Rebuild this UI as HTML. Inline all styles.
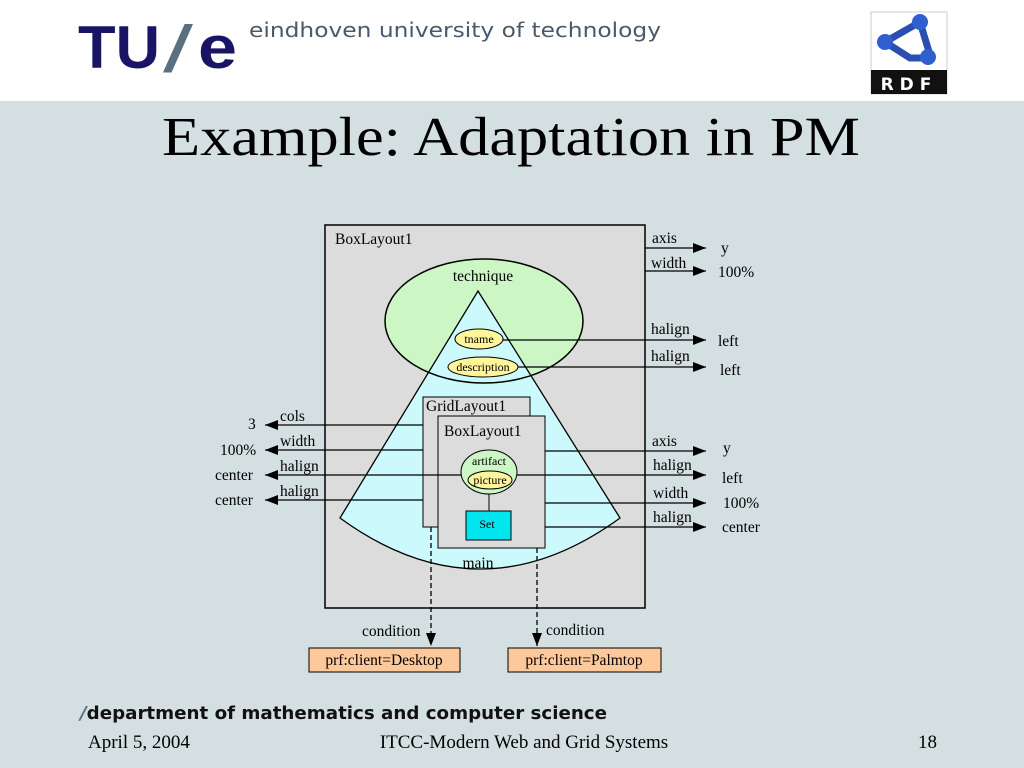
<!DOCTYPE html>
<html><head><meta charset="utf-8"><style>
body{margin:0;width:1024px;height:768px;overflow:hidden;background:#d4dfe2}
svg{display:block}
.s{font-family:"Liberation Serif",serif;font-size:15.5px;fill:#000}
.m{font-family:"Liberation Serif",serif;font-size:12px;fill:#000}
</style></head><body>
<svg width="1024" height="768" viewBox="0 0 1024 768">
<defs><marker id="a" markerWidth="13" markerHeight="10" refX="13" refY="5" orient="auto" markerUnits="userSpaceOnUse"><path d="M0,0 L13,5 L0,10 z" fill="#000"/></marker></defs>
<rect x="0" y="0" width="1024" height="101" fill="#fff"/>
<text x="78" y="68" font-family="Liberation Sans,sans-serif" font-weight="bold" font-size="60" fill="#1a1464" textLength="82" lengthAdjust="spacingAndGlyphs">TU</text>
<text x="163" y="72" font-family="Liberation Sans,sans-serif" font-size="66" fill="#5a6f80" textLength="30" lengthAdjust="spacingAndGlyphs">/</text>
<text x="198" y="68" font-family="Liberation Sans,sans-serif" font-weight="bold" font-size="60" fill="#1a1464" textLength="39" lengthAdjust="spacingAndGlyphs">e</text>
<text x="249" y="37" font-family="DejaVu Sans,sans-serif" font-size="20" fill="#4a5a6a" textLength="412" lengthAdjust="spacingAndGlyphs">eindhoven university of technology</text>
<rect x="871" y="12" width="76" height="82" fill="#fff" stroke="#ccc"/>
<rect x="871" y="70" width="76" height="24" fill="#111"/>
<text x="909" y="90" text-anchor="middle" font-family="DejaVu Sans,sans-serif" font-weight="bold" font-size="17" fill="#fff" letter-spacing="6">RDF</text>
<path d="M920,22 L885,42 L910,58 L925,58 M920,22 L930,55" stroke="#2a4fb0" stroke-width="7" fill="none"/>
<circle cx="920" cy="22" r="8" fill="#3060d0"/><circle cx="885" cy="42" r="8" fill="#3060d0"/><circle cx="928" cy="57" r="8" fill="#3060d0"/>
<text x="511" y="155" text-anchor="middle" font-family="Liberation Serif,serif" font-size="55" textLength="698" lengthAdjust="spacingAndGlyphs">Example: Adaptation in PM</text>

<rect x="325" y="225" width="320" height="383" fill="#dcdcdc" stroke="#000" stroke-width="1.5"/>
<ellipse cx="484" cy="321" rx="99" ry="62" fill="#ccf6c4"/>
<path d="M478,291 L620,518 Q480,620 340,518 Z" fill="#ccf9fb" stroke="#000" stroke-width="1.3"/>
<ellipse cx="484" cy="321" rx="99" ry="62" fill="none" stroke="#000" stroke-width="1.5"/>
<text class="s" x="483" y="281" text-anchor="middle">technique</text>
<text class="s" x="335" y="244">BoxLayout1</text>
<ellipse cx="479" cy="339" rx="24" ry="10" fill="#fff59a" stroke="#000"/>
<text class="m" x="479" y="343" text-anchor="middle">tname</text>
<ellipse cx="483" cy="367" rx="35" ry="10" fill="#fff59a" stroke="#000"/>
<text class="m" x="483" y="371" text-anchor="middle">description</text>

<rect x="423" y="397" width="107" height="130" fill="#dcdcdc" stroke="#000"/>
<text class="s" x="426" y="411">GridLayout1</text>
<rect x="438" y="416" width="107" height="132" fill="#dcdcdc" stroke="#000"/>
<text class="s" x="444" y="436">BoxLayout1</text>
<line x1="489" y1="494" x2="489" y2="511" stroke="#000"/>
<ellipse cx="489" cy="472" rx="28" ry="22" fill="#ccf6c4" stroke="#000"/>
<text class="m" x="489" y="465" text-anchor="middle">artifact</text>
<ellipse cx="490" cy="480" rx="22" ry="9" fill="#fff59a" stroke="#000"/>
<text class="m" x="490" y="484" text-anchor="middle">picture</text>
<rect x="466" y="511" width="45" height="29" fill="#00e5ee" stroke="#000"/>
<text class="m" x="487" y="528" text-anchor="middle">Set</text>
<text class="s" x="478" y="568" text-anchor="middle">main</text>

<g stroke="#000" stroke-width="1.3" marker-end="url(#a)">
<line x1="645" y1="248" x2="706" y2="248"/>
<line x1="645" y1="271" x2="706" y2="271"/>
<line x1="503" y1="340" x2="706" y2="340"/>
<line x1="518" y1="367" x2="706" y2="367"/>
<line x1="423" y1="425" x2="265" y2="425"/>
<line x1="423" y1="450" x2="265" y2="450"/>
<line x1="461" y1="475" x2="265" y2="475"/>
<line x1="423" y1="500" x2="265" y2="500"/>
<line x1="545" y1="451" x2="706" y2="451"/>
<line x1="517" y1="475" x2="706" y2="475"/>
<line x1="545" y1="503" x2="706" y2="503"/>
<line x1="545" y1="527" x2="706" y2="527"/>
<line x1="431" y1="527" x2="431" y2="646" stroke-dasharray="5,3"/>
<line x1="537" y1="548" x2="537" y2="646" stroke-dasharray="5,3"/>
</g>
<text class="s" x="652" y="243">axis</text><text class="s" x="721" y="253">y</text>
<text class="s" x="651" y="268">width</text><text class="s" x="718" y="277">100%</text>
<text class="s" x="651" y="334">halign</text><text class="s" x="718" y="346">left</text>
<text class="s" x="651" y="361">halign</text><text class="s" x="720" y="375">left</text>
<text class="s" x="280" y="421">cols</text><text class="s" x="248" y="429">3</text>
<text class="s" x="280" y="446">width</text><text class="s" x="220" y="455">100%</text>
<text class="s" x="280" y="471">halign</text><text class="s" x="215" y="480">center</text>
<text class="s" x="280" y="496">halign</text><text class="s" x="215" y="505">center</text>
<text class="s" x="652" y="446">axis</text><text class="s" x="723" y="453">y</text>
<text class="s" x="653" y="470">halign</text><text class="s" x="722" y="483">left</text>
<text class="s" x="653" y="498">width</text><text class="s" x="723" y="508">100%</text>
<text class="s" x="653" y="522">halign</text><text class="s" x="722" y="532">center</text>
<text class="s" x="362" y="636">condition</text>
<text class="s" x="546" y="635">condition</text>
<rect x="309" y="648" width="151" height="24" fill="#fdc89a" stroke="#000"/>
<text class="s" x="384" y="665" text-anchor="middle">prf:client=Desktop</text>
<rect x="508" y="648" width="153" height="24" fill="#fdc89a" stroke="#000"/>
<text class="s" x="584" y="665" text-anchor="middle">prf:client=Palmtop</text>

<text x="80" y="719" font-family="DejaVu Sans,sans-serif" font-weight="bold" font-size="18" fill="#111" textLength="527" lengthAdjust="spacingAndGlyphs"><tspan fill="#5a6f80" font-style="italic">/</tspan>department of mathematics and computer science</text>
<text x="88" y="748" font-family="Liberation Serif,serif" font-size="19">April 5, 2004</text>
<text x="524" y="748" text-anchor="middle" font-family="Liberation Serif,serif" font-size="19">ITCC-Modern Web and Grid Systems</text>
<text x="937" y="748" text-anchor="end" font-family="Liberation Serif,serif" font-size="19">18</text>
</svg>
</body></html>
